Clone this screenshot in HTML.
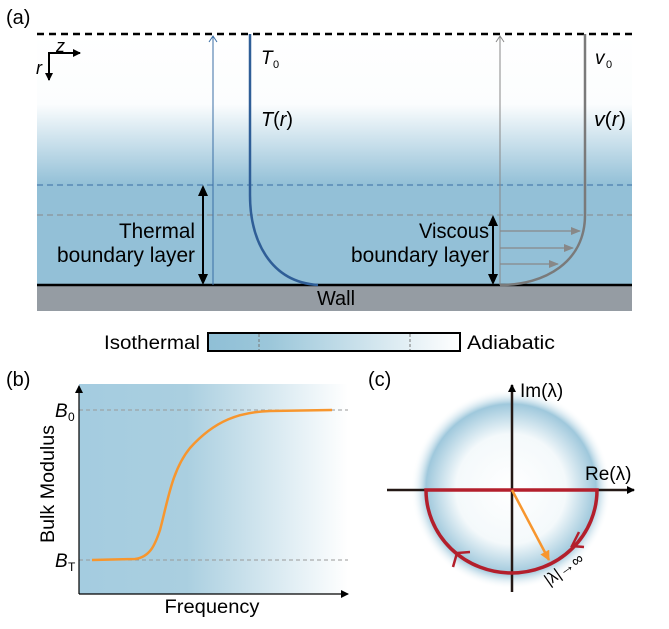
<!DOCTYPE html>
<html><head><meta charset="utf-8"><style>
body{margin:0;background:#fff}
svg{display:block;font-family:"Liberation Sans",sans-serif}
</style></head><body>
<svg width="669" height="629" viewBox="0 0 669 629" xmlns="http://www.w3.org/2000/svg">
<defs>
<linearGradient id="ga" x1="0" y1="0" x2="0" y2="1">
<stop offset="0" stop-color="#fff"/><stop offset="0.28" stop-color="#fbfdfe"/><stop offset="0.6" stop-color="#93c0d7"/><stop offset="1" stop-color="#93c0d7"/>
</linearGradient>
<linearGradient id="gc" x1="0" y1="0" x2="1" y2="0">
<stop offset="0" stop-color="#8fbfd6"/><stop offset="0.25" stop-color="#9cc7da"/><stop offset="1" stop-color="#fff"/>
</linearGradient>
<linearGradient id="gb" x1="0" y1="0" x2="1" y2="0">
<stop offset="0" stop-color="#a4cce0"/><stop offset="0.4" stop-color="#aacfe0"/><stop offset="1" stop-color="#fff"/>
</linearGradient>
<radialGradient id="gr" cx="0.5" cy="0.5" r="0.5">
<stop offset="0" stop-color="#fff"/><stop offset="0.55" stop-color="#f4f9fb"/><stop offset="0.85" stop-color="#9fc8dc"/><stop offset="1" stop-color="#fff" stop-opacity="0"/>
</radialGradient>
<marker id="ab" markerWidth="8" markerHeight="8" refX="7" refY="4" orient="auto" markerUnits="userSpaceOnUse"><path d="M0,0 L8,4 L0,8 z" fill="#000"/></marker>
<marker id="ag" markerWidth="10" markerHeight="8" refX="9" refY="4" orient="auto" markerUnits="userSpaceOnUse"><path d="M0,0 L10,4 L0,8 z" fill="#888"/></marker>
<marker id="ao" markerWidth="10" markerHeight="10" refX="9" refY="5" orient="auto" markerUnits="userSpaceOnUse"><path d="M0,0 L10,5 L0,10 z" fill="#f7962e"/></marker>
</defs>
<!-- panel a -->
<text x="6" y="24" font-size="20">(a)</text>
<rect x="37" y="34" width="595" height="251" fill="url(#ga)"/>
<rect x="37" y="286" width="595" height="25" fill="#959ca3"/>
<line x1="37" y1="285" x2="632" y2="285" stroke="#000" stroke-width="2.5"/>
<line x1="37" y1="34" x2="632" y2="34" stroke="#000" stroke-width="2.5" stroke-dasharray="7,5"/>
<line x1="37" y1="185" x2="632" y2="185" stroke="#3a6ea5" stroke-width="1" stroke-dasharray="6,4"/>
<line x1="37" y1="215" x2="632" y2="215" stroke="#888" stroke-width="1" stroke-dasharray="6,4"/>
<text x="317" y="305" font-size="20" textLength="38" lengthAdjust="spacingAndGlyphs">Wall</text>
<!-- coords -->
<line x1="49" y1="53" x2="49" y2="80" stroke="#000" stroke-width="2" marker-end="url(#ab)"/>
<line x1="48" y1="53" x2="80" y2="53" stroke="#000" stroke-width="2" marker-end="url(#ab)"/>
<text x="56" y="52" font-size="18" font-style="italic">z</text>
<text x="36" y="74" font-size="18" font-style="italic">r</text>
<!-- thermal -->
<line x1="213" y1="285" x2="213" y2="37" stroke="#3a6ea5" stroke-width="1"/>
<path d="M209,42 L213,36 L217,42" fill="none" stroke="#3a6ea5" stroke-width="1"/>
<path d="M250,34 L250,195 C250,240 270,282 318,285" fill="none" stroke="#2f5e97" stroke-width="2.5"/>
<line x1="203" y1="194" x2="203" y2="276" stroke="#000" stroke-width="2"/>
<path d="M198,196 L203,185 L208,196 z M198,274 L203,285 L208,274 z"/>
<text x="261" y="64" font-size="19" font-style="italic">T</text><text x="273" y="68" font-size="11">0</text>
<text x="261" y="126" font-size="20" textLength="32" lengthAdjust="spacingAndGlyphs"><tspan font-style="italic">T</tspan>(<tspan font-style="italic">r</tspan>)</text>
<text x="195" y="238" font-size="21" text-anchor="end" textLength="76" lengthAdjust="spacingAndGlyphs">Thermal</text>
<text x="195" y="262" font-size="21" text-anchor="end" textLength="138" lengthAdjust="spacingAndGlyphs">boundary layer</text>
<!-- viscous -->
<line x1="500" y1="285" x2="500" y2="37" stroke="#888" stroke-width="1"/>
<path d="M496,42 L500,36 L504,42" fill="none" stroke="#888" stroke-width="1"/>
<path d="M585,34 L585,215 C585,262 545,285 500,285" fill="none" stroke="#7a7a7a" stroke-width="2.5"/>
<line x1="500" y1="231" x2="580" y2="231" stroke="#888" stroke-width="1.2" marker-end="url(#ag)"/>
<line x1="500" y1="248" x2="573" y2="248" stroke="#888" stroke-width="1.2" marker-end="url(#ag)"/>
<line x1="500" y1="264" x2="558" y2="264" stroke="#888" stroke-width="1.2" marker-end="url(#ag)"/>
<line x1="493" y1="224" x2="493" y2="276" stroke="#000" stroke-width="2"/>
<path d="M488,226 L493,215 L498,226 z M488,274 L493,285 L498,274 z"/>
<text x="595" y="64" font-size="19" font-style="italic">v</text><text x="606" y="68" font-size="11">0</text>
<text x="594" y="126" font-size="20" textLength="32" lengthAdjust="spacingAndGlyphs"><tspan font-style="italic">v</tspan>(<tspan font-style="italic">r</tspan>)</text>
<text x="489" y="238" font-size="21" text-anchor="end" textLength="70" lengthAdjust="spacingAndGlyphs">Viscous</text>
<text x="489" y="262" font-size="21" text-anchor="end" textLength="138" lengthAdjust="spacingAndGlyphs">boundary layer</text>
<!-- colorbar -->
<rect x="208" y="333" width="252" height="18" fill="url(#gc)" stroke="#000" stroke-width="2"/>
<line x1="259" y1="334" x2="259" y2="350" stroke="#777" stroke-dasharray="3,2"/>
<line x1="410" y1="334" x2="410" y2="350" stroke="#777" stroke-dasharray="3,2"/>
<text x="200" y="349" font-size="19" text-anchor="end" textLength="96" lengthAdjust="spacingAndGlyphs">Isothermal</text>
<text x="467" y="349" font-size="19" textLength="88" lengthAdjust="spacingAndGlyphs">Adiabatic</text>
<!-- panel b -->
<text x="6" y="386" font-size="20">(b)</text>
<rect x="79" y="384" width="269" height="210" fill="url(#gb)"/>
<line x1="79" y1="410" x2="348" y2="410" stroke="#999" stroke-dasharray="4,3"/>
<line x1="79" y1="560" x2="348" y2="560" stroke="#999" stroke-dasharray="4,3"/>
<line x1="79" y1="594" x2="79" y2="386" stroke="#000" stroke-width="1.2" marker-end="url(#ab)"/>
<line x1="79" y1="594" x2="348" y2="594" stroke="#000" stroke-width="1.2" marker-end="url(#ab)"/>
<path d="M92,560 L135,559 C150,557 155,545 160,530 C168,500 172,470 190,448 C215,420 240,412 270,411 L332,410" fill="none" stroke="#f7962e" stroke-width="2.5"/>
<text x="55" y="417" font-size="19" font-style="italic">B</text><text x="68" y="421" font-size="12">0</text>
<text x="55" y="567" font-size="19" font-style="italic">B</text><text x="68" y="571" font-size="12">T</text>
<text x="212" y="613" font-size="19" text-anchor="middle" textLength="95" lengthAdjust="spacingAndGlyphs">Frequency</text>
<text transform="translate(54,484) rotate(-90)" font-size="19" text-anchor="middle" textLength="118" lengthAdjust="spacingAndGlyphs">Bulk Modulus</text>
<!-- panel c -->
<text x="368" y="386" font-size="20">(c)</text>
<circle cx="511" cy="489" r="100" fill="url(#gr)"/>
<line x1="387" y1="490" x2="634" y2="490" stroke="#231815" stroke-width="2.5" marker-end="url(#ab)"/>
<line x1="512" y1="592" x2="512" y2="385" stroke="#231815" stroke-width="2.5" marker-end="url(#ab)"/>
<path d="M426,490 L597,490 A85.5,83 0 0 1 426,490 z" fill="none" stroke="#b31f2c" stroke-width="3.5"/>
<path d="M453,567 L457,553 L470,552" fill="none" stroke="#b31f2c" stroke-width="2.5"/>
<path d="M579,532 L572,546 L584,547" fill="none" stroke="#b31f2c" stroke-width="2.5"/>
<line x1="512" y1="490" x2="549" y2="560" stroke="#f7962e" stroke-width="2.5" marker-end="url(#ao)"/>
<text x="585" y="480" font-size="19">Re(λ)</text>
<text x="520" y="397" font-size="19">Im(λ)</text>
<text x="549" y="586" font-size="16" transform="rotate(-35,549,586)">|λ|→∞</text>
</svg>
</body></html>
